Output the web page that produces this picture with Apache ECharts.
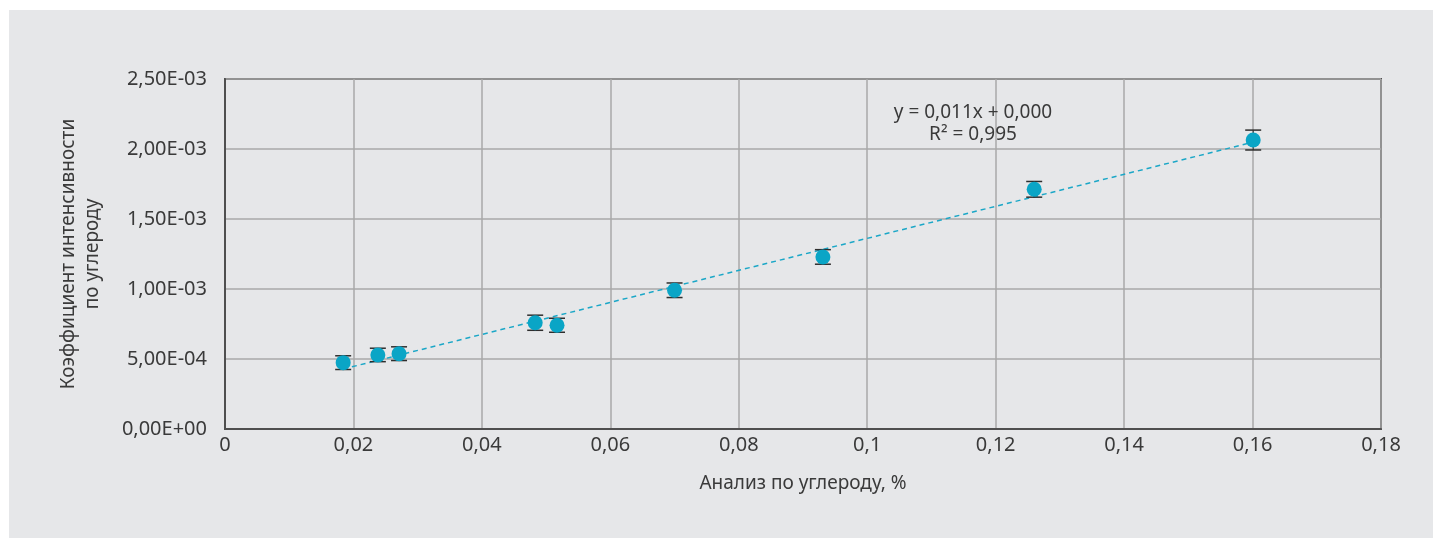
<!DOCTYPE html>
<html>
<head>
<meta charset="utf-8">
<script src="https://cdn.jsdelivr.net/npm/echarts@6/dist/echarts.min.js"></script>
<style>
  html, body { margin: 0; padding: 0; background: #ffffff; }
  #chart { width: 1433px; height: 538px; }
</style>
</head>
<body>
<div id="chart"></div>
<script>
// Carbon analysis (%) vs. carbon intensity coefficient, with measurement spread
const carbonPct    = [0.0184, 0.0238, 0.0271, 0.0483, 0.0517, 0.0700, 0.0931, 0.1260, 0.1601];
const intensity    = [0.000474, 0.000529, 0.000538, 0.000759, 0.000741, 0.000991, 0.001229, 0.001712, 0.002064];
const intensityErr = [0.000049, 0.000048, 0.000049, 0.000054, 0.000050, 0.000052, 0.000052, 0.000056, 0.000071];

const xTickLabels = ['0', '0,02', '0,04', '0,06', '0,08', '0,1', '0,12', '0,14', '0,16', '0,18'];
const yTickLabels = ['0,00E+00', '5,00E-04', '1,00E-03', '1,50E-03', '2,00E-03', '2,50E-03'];

const xTitle = 'Анализ по углероду, %';
const yTitle = 'Коэффициент интенсивности\nпо углероду';
const equationLines = ['y = 0,011x + 0,000', 'R² = 0,995'];

const X_STEP = 0.02;
const Y_STEP = 0.0005;

// Least-squares linear trend over the measured points
function linearFit(xs, ys) {
  const n = xs.length;
  const mx = xs.reduce((s, v) => s + v, 0) / n;
  const my = ys.reduce((s, v) => s + v, 0) / n;
  let sxy = 0, sxx = 0;
  for (let i = 0; i < n; i++) {
    sxy += (xs[i] - mx) * (ys[i] - my);
    sxx += (xs[i] - mx) * (xs[i] - mx);
  }
  const slope = sxy / sxx;
  return { slope, intercept: my - slope * mx };
}
const fit = linearFit(carbonPct, intensity);
const xMinData = Math.min(...carbonPct);
const xMaxData = Math.max(...carbonPct);
const trendData = [
  [xMinData, fit.slope * xMinData + fit.intercept],
  [xMaxData, fit.slope * xMaxData + fit.intercept]
];

const points = carbonPct.map((x, i) => [x, intensity[i]]);
const errData = carbonPct.map((x, i) => [x, intensity[i] - intensityErr[i], intensity[i] + intensityErr[i]]);

const FONT = '"Noto Sans", Lato, sans-serif';
const TEXT = '#3a3a3a';

const chart = echarts.init(document.getElementById('chart'), null, { renderer: 'canvas' });

chart.setOption({
  backgroundColor: '#ffffff',
  animation: false,
  textStyle: { fontFamily: FONT },
  graphic: [
    {
      type: 'rect', z: -10, silent: true,
      shape: { x: 9, y: 10, width: 1433 - 9, height: 538 - 10 },
      style: { fill: '#e6e7e9' }
    },
    {
      type: 'text', z: 10, silent: true,
      x: 973, y: 102,
      style: {
        text: equationLines.join('\n'),
        align: 'center',
        verticalAlign: 'top',
        fill: TEXT,
        font: '19px ' + FONT,
        lineHeight: 22
      }
    }
  ],
  grid: {
    left: 225, right: 52, top: 79, bottom: 109,
    show: true, borderColor: '#4f4f4f', borderWidth: 2, backgroundColor: 'transparent'
  },
  xAxis: {
    type: 'value',
    min: 0, max: 0.18, interval: X_STEP,
    name: xTitle,
    nameLocation: 'middle',
    nameGap: 45,
    nameTextStyle: { color: TEXT, fontSize: 19, fontFamily: FONT },
    axisLine: { show: true, lineStyle: { color: '#4f4f4f', width: 2 } },
    axisTick: { show: false },
    axisLabel: {
      color: TEXT, fontSize: 20, fontFamily: FONT, margin: 6,
      formatter: v => xTickLabels[Math.round(v / X_STEP)] ?? ''
    },
    splitLine: { show: true, lineStyle: { color: '#a8a8a8', width: 1.5 } }
  },
  yAxis: {
    type: 'value',
    min: 0, max: 0.0025, interval: Y_STEP,
    name: yTitle,
    nameLocation: 'middle',
    nameGap: 120,
    nameTextStyle: { color: TEXT, fontSize: 19, fontFamily: FONT, lineHeight: 24, align: 'center' },
    axisLine: { show: true, lineStyle: { color: '#4f4f4f', width: 2 } },
    axisTick: { show: false },
    axisLabel: {
      color: TEXT, fontSize: 20, fontFamily: FONT, margin: 18,
      formatter: v => yTickLabels[Math.round(v / Y_STEP)] ?? ''
    },
    splitLine: { show: true, lineStyle: { color: '#a8a8a8', width: 1.5 } }
  },
  series: [
    {
      type: 'line',
      data: trendData,
      symbol: 'none',
      z: 2,
      lineStyle: { color: '#1ba7c7', width: 1.5, type: [5, 4] }
    },
    {
      // error bars sit under the markers so only the caps show
      type: 'custom',
      data: errData,
      z: 3,
      renderItem: (params, api) => {
        const x = api.value(0);
        const lo = api.coord([x, api.value(1)]);
        const hi = api.coord([x, api.value(2)]);
        const half = 8;
        const style = { stroke: '#2e2e2e', lineWidth: 1.5 };
        return {
          type: 'group',
          children: [
            { type: 'line', shape: { x1: lo[0], y1: lo[1], x2: hi[0], y2: hi[1] }, style: { stroke: '#2e2e2e', lineWidth: 1 } },
            { type: 'line', shape: { x1: lo[0] - half, y1: lo[1], x2: lo[0] + half, y2: lo[1] }, style },
            { type: 'line', shape: { x1: hi[0] - half, y1: hi[1], x2: hi[0] + half, y2: hi[1] }, style }
          ]
        };
      }
    },
    {
      type: 'scatter',
      data: points,
      symbol: 'circle',
      symbolSize: 15,
      z: 4,
      itemStyle: { color: '#0aa5c6', opacity: 1 }
    }
  ]
});
</script>
</body>
</html>
